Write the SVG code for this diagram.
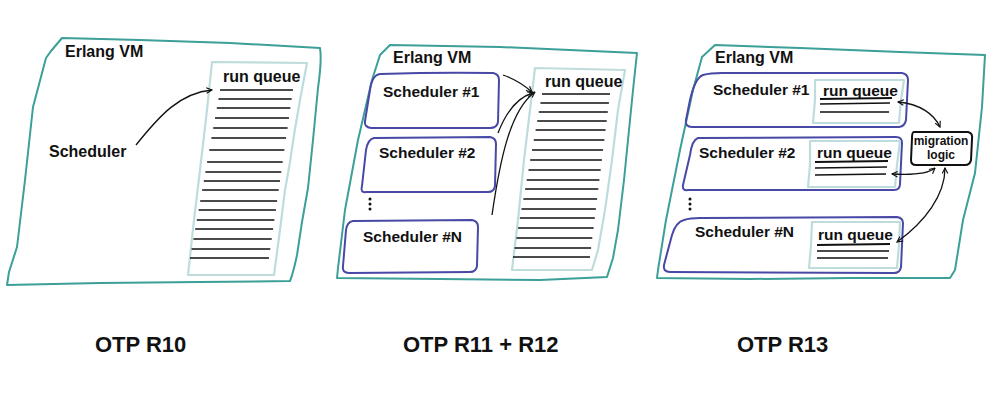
<svg xmlns="http://www.w3.org/2000/svg" width="1006" height="406" viewBox="0 0 1006 406">
<style>
.vm{fill:none;stroke:#3c9f98;stroke-width:2;stroke-linejoin:round}
.sch{fill:none;stroke:#4848a6;stroke-width:2;stroke-linejoin:round}
.rq{fill:none;stroke:#bfdcdc;stroke-width:2.2;stroke-linejoin:round}
.ln{stroke:#111;stroke-width:1.3;fill:none}
.ul{stroke:#111;stroke-width:1.8;fill:none}
.t{font-family:"Liberation Sans",Arial,sans-serif;font-weight:bold;fill:#111}
.t16{font-size:16px}
.t15{font-size:15.5px}
.t12{font-size:12px}
.big{font-size:22px}
.con{fill:none;stroke:#111;stroke-width:1.3}
.ml{fill:#fff;stroke:#111;stroke-width:2;stroke-linejoin:round}
</style>
<defs>
<marker id="ah" viewBox="0 0 10 10" refX="9" refY="5" markerWidth="7" markerHeight="7" markerUnits="userSpaceOnUse" orient="auto-start-reverse">
<path d="M1,1 L9,5 L1,9" fill="none" stroke="#111" stroke-width="1.6"/>
</marker>
</defs>
<rect width="1006" height="406" fill="#fff"/>

<!-- Panel 1 -->
<g id="vm1">
<path class="vm" d="M62,38 L140,40 L230,43 L320,48 Q322,60 318,88 L313,140 L308,188 L302,222 L297,255 Q293,274 290,281 L200,282 L100,283 L7,285 L9,272 L17,247 L25,180 L33,107 L46,58 L51,51 Z"/>
<text class="t t16" x="65" y="57">Erlang VM</text>
</g>
<g id="sched1">
<text class="t t16" x="49" y="157">Scheduler</text>
</g>
<g id="rq1">
<path class="rq" d="M212,62 L307,63 L300,100 L294,135 L290,162 L285,190 L280,230 L274,275 L188,275 L194,220 L200,170 L207,110 Z"/>
<text class="t t16" x="223" y="82">run queue</text>
<path class="ln" d="M220,90 L293,90 M218.4,99 L291.7,99 M216.8,108 L290.4,108 M215,118 L289,118 M213.2,128 L287.6,128 M211.4,138 L286.1,138 M209.3,150 L284.4,150 M207.1,162 L282.7,162 M205.4,172 L281.3,172 M203.8,181 L280,181 M202.1,190 L278.7,190 M200.2,201 L277.1,201 M198.6,210 L275.9,210 M196.8,220 L274.4,220 M195.2,229 L273.1,229 M193.4,239 L271.7,239 M191.6,249 L270.3,249 M190,258 L269,258"/>
</g>

<!-- Panel 2 -->
<g id="vm2">
<path class="vm" d="M390,45 L500,47 L637,53 Q634,80 630,120 L624,180 L618,230 L613,258 L607,277 L540,280 L440,279 L337,278 L338,268 L345,210 L358,140 L372,80 L380,55 Z"/>
<text class="t t16" x="393" y="63">Erlang VM</text>
</g>
<g id="sched2-1">
<path class="sch" d="M380,74 Q440,72 493,73 Q499,74 499,80 L498,122 Q497,128 490,128 L371,128 Q364,127 365,121 L370,90 Q372,75 380,74 Z"/>
<text class="t t15" x="383" y="97">Scheduler #1</text>
</g>
<g id="sched2-2">
<path class="sch" d="M374,138 L490,137 Q496,138 496,144 L495,186 Q494,192 488,192 L366,192 Q360,193 362,186 L366,150 Q368,139 374,138 Z"/>
<text class="t t15" x="379" y="158">Scheduler #2</text>
</g>
<g id="dots2">
<circle cx="370" cy="199" r="1.5" fill="#111"/>
<circle cx="370" cy="204" r="1.5" fill="#111"/>
<circle cx="370" cy="209" r="1.5" fill="#111"/>
</g>
<g id="sched2-n">
<path class="sch" d="M353,221 L472,220 Q478,221 478,227 L477,266 Q476,272 470,272 L349,273 Q342,273 343,266 L346,230 Q347,222 353,221 Z"/>
<text class="t t15" x="363" y="242">Scheduler #N</text>
</g>
<g id="rq2">
<path class="rq" d="M535,68 L625,70 L618,110 L612,160 L605,210 L598,250 L592,270 L512,270 L518,220 L524,160 L530,110 Z"/>
<text class="t t16" x="545" y="87">run queue</text>
<path class="ln" d="M542,94 L610,94 M540.4,103 L608.9,103 M538.8,112 L607.8,112 M537.2,121 L606.7,121 M535.6,130 L605.6,130 M533.8,140 L604.4,140 M532,150 L603.1,150 M530.2,160 L601.9,160 M528.5,170 L600.7,170 M526.7,180 L599.4,180 M525.1,189 L598.3,189 M523.3,199 L597.1,199 M521.5,209 L595.9,209 M519.9,218 L594.8,218 M518.1,228 L593.6,228 M516.4,238 L592.3,238 M514.6,248 L591.1,248 M513,257 L590,257"/>
</g>

<!-- Panel 3 -->
<g id="vm3">
<path class="vm" d="M715,45 L800,48 L900,52 L985,55 L982,107 L975,173 L963,220 L955,270 L950,278 L850,278 L750,279 L657,278 L658,270 L666,220 L680,150 L693,90 L702,57 Z"/>
<text class="t t16" x="715" y="63">Erlang VM</text>
</g>
<g id="sched3-1">
<path class="sch" d="M703,75 Q710,73 722,73 L902,73 Q908,74 908,80 L906,120 Q905,126 899,127 L692,127 Q685,127 686,120 L690,100 Q695,78 703,75 Z"/>
<text class="t t15" x="713" y="95">Scheduler #1</text>
</g>
<g id="sched3-2">
<path class="sch" d="M698,138 L896,137 Q902,137 902,143 L900,184 Q900,190 894,190 L688,190 Q682,191 683,185 L690,155 Q692,140 698,138 Z"/>
<text class="t t15" x="699" y="158">Scheduler #2</text>
</g>
<g id="dots3">
<circle cx="690" cy="199" r="1.5" fill="#111"/>
<circle cx="690" cy="204" r="1.5" fill="#111"/>
<circle cx="690" cy="209" r="1.5" fill="#111"/>
</g>
<g id="sched3-n">
<path class="sch" d="M684,220 Q690,218 700,218 L897,217 Q903,218 903,223 L901,267 Q900,273 894,273 L670,272 Q663,272 664,265 L672,235 Q676,222 684,220 Z"/>
<text class="t t15" x="695" y="237">Scheduler #N</text>
</g>
<g id="rq3-1">
<path class="rq" d="M815,80 L904,80 L901,100 L899,123 L813,123 L815,100 Z"/>
<text class="t t15" x="823" y="96">run queue</text>
<path class="ul" d="M820,99 L892,98"/>
<path class="ln" d="M820,104 L890,103 M820,112 L889,112"/>
</g>
<g id="rq3-2">
<path class="rq" d="M810,141 L900,141 L897,165 L895,187 L808,187 L810,165 Z"/>
<text class="t t15" x="817" y="158">run queue</text>
<path class="ul" d="M815,162 L888,161"/>
<path class="ln" d="M815,168 L887,167 M815,175 L886,174"/>
</g>
<g id="rq3-n">
<path class="rq" d="M812,222 L900,222 L899,245 L897,268 L809,268 L811,245 Z"/>
<text class="t t15" x="818" y="240">run queue</text>
<path class="ul" d="M817,245 L890,244"/>
<path class="ln" d="M817,251 L889,251 M817,258 L888,258"/>
</g>
<g id="migration">
<path class="ml" d="M914,132 L968,132 Q973,133 972,139 L971,160 Q970,165 965,165 L916,165 Q911,165 911,160 L912,138 Q912,132 914,132 Z"/>
<text class="t t12" x="941" y="145" text-anchor="middle">migration</text>
<text class="t t12" x="941" y="159" text-anchor="middle">logic</text>
</g>

<!-- Connectors -->
<g id="connectors">
<path class="con" d="M136,145 C160,115 180,93 212,90" marker-end="url(#ah)"/>
<path class="con" d="M503,75 Q518,80 532,92" marker-end="url(#ah)"/>
<path class="con" d="M498,133 C505,115 515,98 533,93" marker-end="url(#ah)"/>
<path class="con" d="M492,215 C500,160 510,110 535,92" marker-end="url(#ah)"/>
<path class="con" d="M898,102 C920,104 934,114 940,127" marker-start="url(#ah)" marker-end="url(#ah)"/>
<path class="con" d="M892,174 C910,175 928,174 935,168" marker-start="url(#ah)" marker-end="url(#ah)"/>
<path class="con" d="M897,242 C925,222 945,195 945,168" marker-start="url(#ah)" marker-end="url(#ah)"/>
</g>

<!-- Labels -->
<g id="labels">
<text class="t big" x="95" y="352">OTP R10</text>
<text class="t big" x="403" y="352">OTP R11 + R12</text>
<text class="t big" x="737" y="352">OTP R13</text>
</g>
</svg>
